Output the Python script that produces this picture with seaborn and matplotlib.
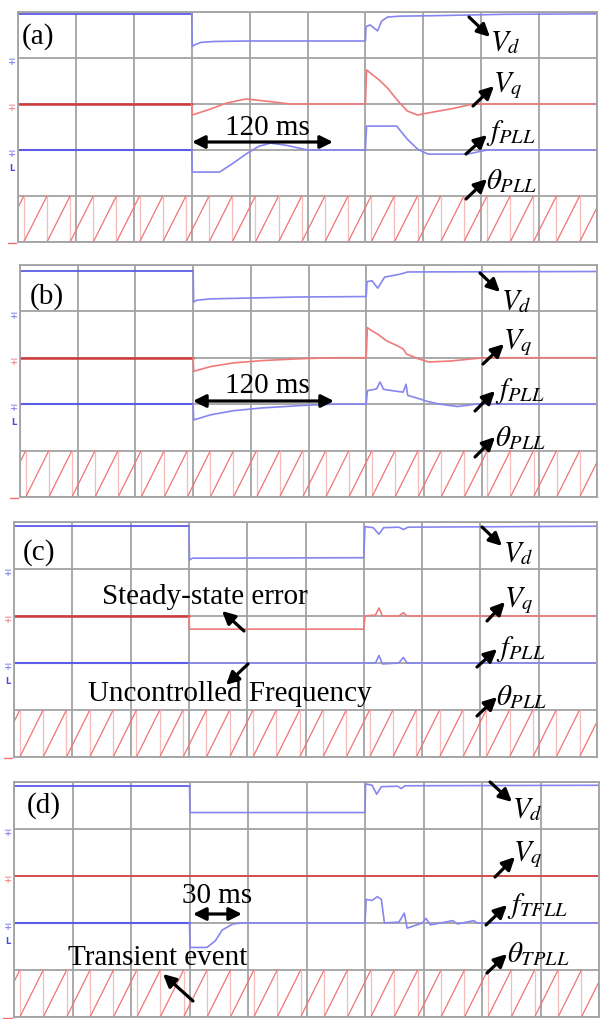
import numpy as np
import pandas as pd
import matplotlib
matplotlib.use("Agg")
import matplotlib.pyplot as plt
import matplotlib.transforms as mtransforms
from matplotlib.patches import FancyArrowPatch
from matplotlib.lines import Line2D
import seaborn as sns

sns.set_theme(style="white")
plt.rcParams["font.family"] = ["Liberation Serif", "DejaVu Serif"]
plt.rcParams["mathtext.fontset"] = "stix"

# ---------------- data (time in ms, amplitude in scope divisions) ----------------
# panel (a)
vd_a_t = [0, 150, 150.5, 152, 158, 170, 200, 300, 300.5, 304, 310.5, 314, 319, 330, 360, 420, 500]
vd_a_v = [4.96, 4.96, 4.25, 4.28, 4.34, 4.36, 4.37, 4.37, 4.68, 4.72, 4.59, 4.80, 4.89, 4.91, 4.92, 4.95, 4.96]
vq_a_t = [0, 150, 150.5, 165, 180, 197, 215, 235, 300, 301, 305, 312, 319, 328, 336, 345, 353, 375, 393, 500]
vq_a_v = [3, 3, 2.76, 2.88, 3.02, 3.11, 3.06, 3.0, 3.0, 3.74, 3.66, 3.52, 3.35, 3.07, 2.85, 2.76, 2.80, 2.90, 3.0, 3.0]
f_a_t = [0, 150, 150.5, 174, 185, 198, 208, 218, 232, 250, 300, 301, 327, 336, 345, 354, 388, 405, 500]
f_a_v = [2, 2, 1.52, 1.52, 1.70, 1.93, 2.08, 2.15, 2.10, 2.0, 2.0, 2.52, 2.52, 2.24, 2.02, 1.91, 1.91, 2.0, 2.0]

# panel (b)
vd_b_t = [0, 150, 150.5, 153, 165, 240, 300, 300.7, 305, 310, 316, 329, 336, 500]
vd_b_v = [4.86, 4.86, 4.20, 4.24, 4.27, 4.31, 4.32, 4.64, 4.66, 4.50, 4.74, 4.80, 4.85, 4.86]
vq_b_t = [0, 150, 150.5, 165, 185, 210, 243, 270, 300, 301, 305, 310, 318, 327, 332, 335, 344, 354, 373, 401, 500]
vq_b_v = [3, 3, 2.71, 2.81, 2.89, 2.94, 2.98, 3.0, 3.0, 3.65, 3.58, 3.51, 3.36, 3.26, 3.19, 3.08, 2.99, 2.91, 2.93, 3.0, 3.0]
f_b_t = [0, 150, 150.5, 165, 185, 210, 243, 270, 300, 301, 309, 312, 315, 323, 332, 334.5, 336, 347, 353, 364, 379, 395, 500]
f_b_v = [2, 2, 1.66, 1.77, 1.86, 1.92, 1.97, 2.0, 2.0, 2.29, 2.33, 2.48, 2.32, 2.29, 2.26, 2.43, 2.19, 2.11, 2.06, 2.0, 1.95, 2.0, 2.0]

# panel (c)
vd_c_t = [0, 150, 150.5, 153, 300, 301, 308, 313, 317, 330, 334, 338, 500]
vd_c_v = [4.91, 4.91, 4.19, 4.23, 4.24, 4.90, 4.88, 4.74, 4.88, 4.89, 4.84, 4.89, 4.91]
vq_c_t = [0, 150, 150.5, 300, 301, 310, 313, 316, 330, 334, 337, 500]
vq_c_v = [3, 3, 2.72, 2.72, 3.0, 3.02, 3.17, 3.0, 3.0, 3.07, 3.0, 3.0]
f_c_t = [0, 150, 300, 310, 313, 316, 330, 334, 337, 500]
f_c_v = [2, 2, 2, 2.0, 2.16, 1.98, 2.0, 2.12, 2.0, 2.0]

# panel (d)
vd_d_t = [0, 150, 150.5, 300, 300.5, 306, 310, 314, 328, 331, 334, 500]
vd_d_v = [4.92, 4.92, 4.35, 4.35, 4.96, 4.93, 4.74, 4.90, 4.91, 4.86, 4.92, 4.93]
vq_d_t = [0, 150, 500]
vq_d_v = [3, 3, 3]
f_d_t = [0, 150, 150.5, 165, 172, 178, 187, 195, 300, 301, 306, 310.6, 314, 316.6, 329, 333.6, 336, 349, 352, 356, 375, 379, 393, 396, 500]
f_d_v = [2, 2, 1.48, 1.48, 1.62, 1.85, 1.98, 2.0, 2.0, 2.5, 2.48, 2.56, 2.5, 2.0, 2.02, 2.21, 1.89, 2.0, 2.1, 1.96, 2.05, 1.98, 2.05, 2.0, 2.0]

# phase-angle resets (ms) read from the sawtooth, 0..1 division ramp
theta_reset_ms = [5, 25, 45, 65, 85, 105, 125, 145, 165, 185, 205, 225, 245,
                  265, 285, 305, 325, 345, 365, 385, 405, 425, 445, 465, 485]

panel_labels = ["(a)", "(b)", "(c)", "(d)"]
freq_labels = [r"$f_{PLL}$", r"$f_{PLL}$", r"$f_{PLL}$", r"$f_{TFLL}$"]
theta_labels = [r"$\theta_{PLL}$", r"$\theta_{PLL}$", r"$\theta_{PLL}$", r"$\theta_{TPLL}$"]

panels = [
    dict(vd=(vd_a_t, vd_a_v), vq=(vq_a_t, vq_a_v), f=(f_a_t, f_a_v)),
    dict(vd=(vd_b_t, vd_b_v), vq=(vq_b_t, vq_b_v), f=(f_b_t, f_b_v)),
    dict(vd=(vd_c_t, vd_c_v), vq=(vq_c_t, vq_c_v), f=(f_c_t, f_c_v)),
    dict(vd=(vd_d_t, vd_d_v), vq=(vq_d_t, vq_d_v), f=(f_d_t, f_d_v)),
]

# ---------------- layout (pixels: left, top, right, bottom) ----------------
W, H = 600, 1020
rects = [(18, 13, 597, 243), (20, 266, 597, 498), (14, 523, 597, 758), (14, 783, 599, 1018)]

fig = plt.figure(figsize=(W / 100, H / 100), dpi=100)
fig.patch.set_facecolor("white")

BLUE_PRE, BLUE_POST = "#5c5ce6", "#8686f0"
RED_PRE, RED_POST = "#d03a3a", "#f07a7a"
GRID = "#a3a3a3"


def F(x, y):
    return (x / W, 1 - y / H)


def draw_trace(ax, t, v, c_pre, c_post, lw_pre, lw_post):
    t = np.asarray(t, float)
    v = np.asarray(v, float)
    if 150 not in t:
        v150 = np.interp(150, t, v)
        idx = np.searchsorted(t, 150)
        t = np.insert(t, idx, 150)
        v = np.insert(v, idx, v150)
    pre = t <= 150
    post = t >= 150
    sns.lineplot(x=t[pre], y=v[pre], ax=ax, color=c_pre, lw=lw_pre,
                 sort=False, estimator=None)
    sns.lineplot(x=t[post], y=v[post], ax=ax, color=c_post, lw=lw_post,
                 sort=False, estimator=None)


def sawtooth_frames(resets, period=20.0, t_end=500.0):
    ramps, drops = [], []
    starts = [0.0] + list(resets)
    ends = list(resets) + [t_end]
    prev_reset = resets[0] - period
    for k, (s, e) in enumerate(zip(starts, ends)):
        base = prev_reset if k == 0 else s
        ramps.append(dict(t=s, v=(s - base) / period, u=k))
        ramps.append(dict(t=e, v=(e - base) / period, u=k))
    for k, r in enumerate(resets):
        drops.append(dict(t=r, v=1.0, u=k))
        drops.append(dict(t=r, v=0.0, u=k))
    return pd.DataFrame(ramps), pd.DataFrame(drops)


ramp_df, drop_df = sawtooth_frames(theta_reset_ms)

for i, (l, t, r, b) in enumerate(rects):
    ax = fig.add_axes([l / W, 1 - b / H, (r - l) / W, (b - t) / H])
    ax.set_xlim(0, 500)
    ax.set_ylim(0, 5)
    ax.set_xticks(np.arange(0, 501, 50))
    ax.set_yticks(np.arange(0, 6, 1))
    ax.grid(True, color=GRID, lw=1.3)
    ax.set_axisbelow(True)
    ax.tick_params(length=0, labelbottom=False, labelleft=False)
    for s in ax.spines.values():
        s.set_color(GRID)
        s.set_linewidth(1.3)

    pdata = panels[i]
    # theta sawtooth
    sns.lineplot(data=drop_df, x="t", y="v", units="u", estimator=None, sort=False,
                 ax=ax, color="#f6bcbc", lw=0.9)
    sns.lineplot(data=ramp_df, x="t", y="v", units="u", estimator=None, sort=False,
                 ax=ax, color="#f07474", lw=0.9)
    # traces
    draw_trace(ax, *pdata["vd"], BLUE_PRE, BLUE_POST, 1.3, 1.2)
    if i < 3:
        draw_trace(ax, *pdata["vq"], RED_PRE, RED_POST, 1.8, 1.2)
    else:
        draw_trace(ax, *pdata["vq"], "#d64848", "#d64848", 1.3, 1.3)
    draw_trace(ax, *pdata["f"], BLUE_PRE, BLUE_POST, 1.5, 1.2)
    ax.set_xlabel("")
    ax.set_ylabel("")

    # channel ground markers on the left edge
    tr = mtransforms.blended_transform_factory(ax.transAxes, ax.transData)
    mk = dict(transform=tr, ha="center", va="center", fontsize=7,
              family="DejaVu Sans", clip_on=False)
    ax.text(-0.011, 3.93, "\u2213", color="#6a6af0", **mk)
    ax.text(-0.011, 2.93, "\u2213", color="#f07070", **mk)
    ax.text(-0.011, 1.93, "\u2213", color="#6a6af0", **mk)
    ax.text(-0.011, 1.62, "L", color="#4a4ae0", fontsize=6, fontweight="bold",
            transform=tr, ha="center", va="center", family="DejaVu Sans", clip_on=False)
    ax.add_line(Line2D([-0.018, -0.004], [-0.03, -0.03], transform=tr,
                       color="#f07070", lw=1.0, clip_on=False))

# ---------------- annotations (figure pixels) ----------------
LAB = 21
SIG = 21


def txt(x, y, s, size, ha="left"):
    fig.text(*F(x, y), s, fontsize=size, ha=ha, va="center", color="black")


def arr(tail, tip, style="-|>"):
    p = FancyArrowPatch(F(*tail), F(*tip), transform=fig.transFigure,
                        arrowstyle=style, mutation_scale=19, lw=2.3,
                        color="black", shrinkA=0, shrinkB=0)
    fig.add_artist(p)


# panel labels
txt(22, 37, panel_labels[0], LAB)
txt(30, 297, panel_labels[1], LAB)
txt(23, 553, panel_labels[2], LAB)
txt(27, 806, panel_labels[3], LAB)

# signal labels: (label x, y), arrow tail, arrow tip
sig_specs = [
    [((490, 43), (469, 18), (490, 38)),
     ((493, 86), (473, 107), (494, 87)),
     ((486, 133), (466, 155), (487, 136)),
     ((486, 181), (466, 200), (487, 180))],
    [((501, 302), (480, 274), (500, 293)),
     ((503, 343), (483, 365), (504, 345)),
     ((495, 391), (475, 412), (495, 392)),
     ((495, 438), (475, 458), (495, 438))],
    [((503, 554), (482, 528), (502, 547)),
     ((504, 601), (487, 622), (505, 603)),
     ((496, 649), (477, 668), (497, 650)),
     ((496, 697), (477, 717), (497, 698))],
    [((512, 810), (490, 783), (512, 803)),
     ((513, 855), (495, 878), (515, 858)),
     ((507, 906), (486, 926), (507, 906)),
     ((507, 954), (487, 974), (507, 955))],
]
for i, spec in enumerate(sig_specs):
    names = [r"$V_d$", r"$V_q$", freq_labels[i], theta_labels[i]]
    for name, (pos, tail, tip) in zip(names, spec):
        txt(pos[0], pos[1], name, SIG)
        arr(tail, tip)

# time-span markers
txt(267, 128, "120 ms", LAB, ha="center")
arr((192, 143), (333, 143), "<|-|>")
txt(267, 386, "120 ms", LAB, ha="center")
arr((193, 402), (334, 402), "<|-|>")
txt(217, 896, "30 ms", LAB, ha="center")
arr((193, 915), (242, 915), "<|-|>")

# explanatory notes
txt(205, 597, "Steady-state error", LAB, ha="center")
arr((244, 632), (222, 612))
txt(230, 694, "Uncontrolled Frequency", LAB, ha="center")
arr((248, 665), (226, 686))
txt(158, 958, "Transient event", LAB, ha="center")
arr((193, 1002), (163, 975))

fig.savefig("out.png", dpi=100, facecolor="white")
